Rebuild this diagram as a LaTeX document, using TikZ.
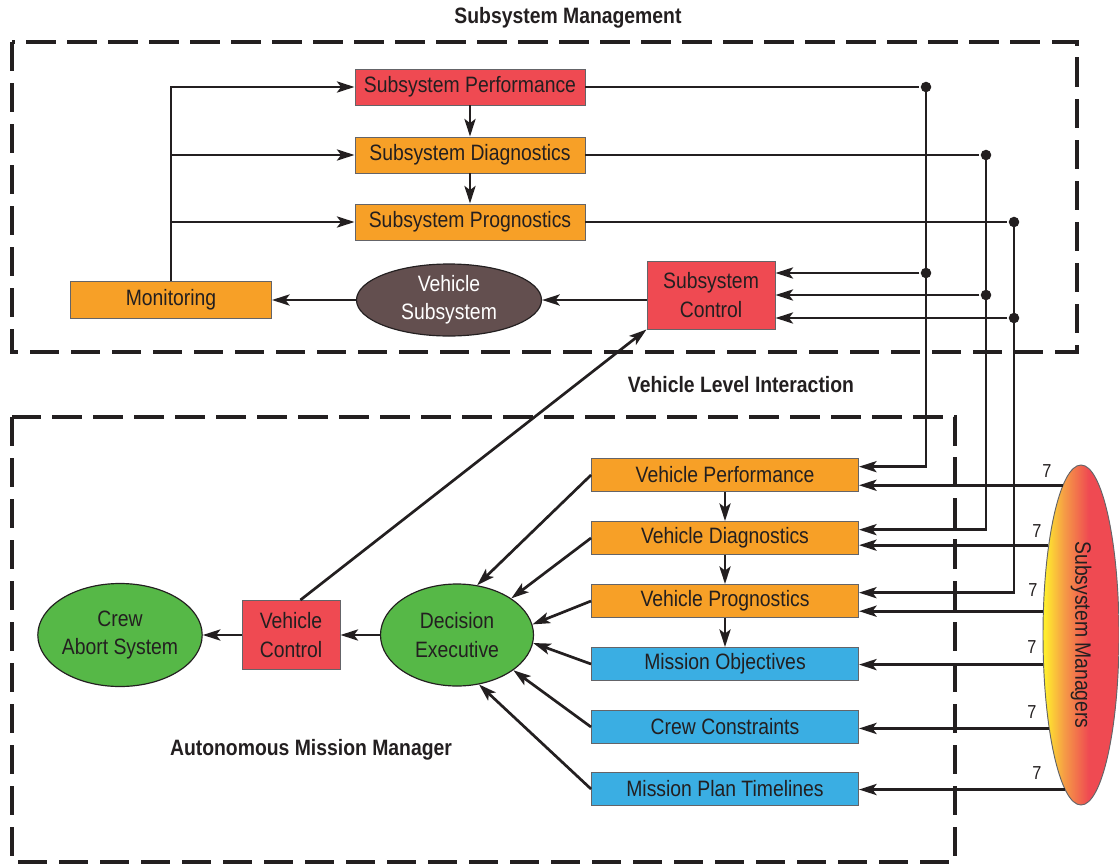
\documentclass[tikz,border=0pt]{standalone}
\usepackage{fontspec}
\setmainfont[FakeStretch=0.87]{Liberation Sans}
\usetikzlibrary{arrows.meta,shapes.geometric}
\definecolor{boxred}{RGB}{239,74,82}
\definecolor{boxorange}{RGB}{247,160,39}
\definecolor{boxblue}{RGB}{58,174,227}
\definecolor{boxgreen}{RGB}{86,184,71}
\definecolor{boxbrown}{RGB}{99,79,79}
\definecolor{smyellow}{RGB}{255,238,45}
\definecolor{smmid}{RGB}{245,155,70}
\definecolor{ink}{RGB}{35,31,32}
\definecolor{edge}{RGB}{100,100,104}
\pgfdeclarehorizontalshading{smshade}{100bp}{color(0bp)=(smyellow); color(26bp)=(smyellow);
  color(39bp)=(smmid); color(55bp)=(boxred); color(100bp)=(boxred)}

\begin{document}
\begin{tikzpicture}[x = 0.03cm, y = -0.03cm, line width = 2.3pt, color = ink,
                    font = \fontsize{19}{24}\selectfont,
                    arr/.style = {-{Stealth[length = 15pt, width = 9.5pt, inset = 3.5pt]}},
                    sbox/.style = {rectangle, draw = edge, line width = 0.8pt, inner sep = 0pt, minimum width = 6.9cm, minimum height = 1.08cm},
                    vbox/.style = {rectangle, draw = edge, line width = 0.8pt, inner sep = 0pt, minimum width = 8.01cm, minimum height = 0.99cm},
                    cbox/.style = {rectangle, draw = edge, line width = 0.8pt, inner sep = 0pt, align = center},
                    oval/.style = {ellipse, draw = ink, line width = 1pt, inner sep = 0pt, align = center},
                    dot/.style = {circle, fill = ink, inner sep = 0pt, minimum size = 9pt},
                    zone/.style = {line width = 4pt, dash pattern = on 25pt off 10pt},
                    title/.style = {font = \fontsize{19}{24}\selectfont\bfseries},
                    num/.style = {font = \fontsize{16}{19}\selectfont}]
  \useasboundingbox (0,0) rectangle (1119,865);

  \node [title] (tSM) at (568,18) {Subsystem Management};
  \node [title] (tVL) at (741,385) {Vehicle Level Interaction};
  \node [title] (tAM) at (311,750) {Autonomous Mission Manager};
  \draw [zone] (12,42) rectangle (1077,352);
  \draw [zone] (12,417) rectangle (955,862);

  \node [sbox, fill = boxred] (SP) at (470,87) {Subsystem Performance};
  \node [sbox, fill = boxorange] (SD) at (470,155) {Subsystem Diagnostics};
  \node [sbox, fill = boxorange] (SG) at (470,222) {Subsystem Prognostics};
  \node [cbox, fill = boxorange, minimum width = 6.03cm, minimum height = 1.11cm] (MON) at (171,300) {Monitoring};
  \node [oval, fill = boxbrown, text = white, minimum width = 5.55cm, minimum height = 2.16cm] (VS) at (449,300) {Vehicle\\Subsystem};
  \node [cbox, fill = boxred, minimum width = 3.84cm, minimum height = 2.04cm] (SC) at (711,295) {Subsystem\\Control};

  \node [vbox, fill = boxorange] (VP) at (725,475) {Vehicle Performance};
  \node [vbox, fill = boxorange] (VD) at (725,538) {Vehicle Diagnostics};
  \node [vbox, fill = boxorange] (VG) at (725,601) {Vehicle Prognostics};
  \node [vbox, fill = boxblue] (MO) at (725,664) {Mission Objectives};
  \node [vbox, fill = boxblue] (CC) at (725,727) {Crew Constraints};
  \node [vbox, fill = boxblue] (MT) at (725,789) {Mission Plan Timelines};
  \node [oval, fill = boxgreen, minimum width = 4.59cm, minimum height = 3.06cm] (DE) at (457,635) {Decision\\Executive};
  \node [cbox, fill = boxred, minimum width = 2.94cm, minimum height = 2.07cm] (VC) at (291,635) {Vehicle\\Control};
  \node [oval, fill = boxgreen, minimum width = 4.56cm, minimum height = 3.09cm] (CA) at (120,635) {Crew\\Abort System};
  \node [ellipse, draw = edge, line width = 0.8pt, shading = smshade, inner sep = 0pt,
         minimum width = 2.28cm, minimum height = 10.2cm] (SM) at (1081,635) {\rotatebox{-90}{Subsystem Managers}\hspace{-0.35cm}};

  \node [dot] (j1) at (926,87) {};
  \node [dot] (j2) at (986,155) {};
  \node [dot] (j3) at (1014,222) {};
  \node [dot] (k1) at (926,273) {};
  \node [dot] (k2) at (986,295) {};
  \node [dot] (k3) at (1014,318) {};

  \node [num] (n1) at (1047,471) {7};
  \node [num] (n2) at (1037,531) {7};
  \node [num] (n3) at (1033,590) {7};
  \node [num] (n4) at (1032,647) {7};
  \node [num] (n5) at (1032,712) {7};
  \node [num] (n6) at (1037,773) {7};

  \draw [arr] (MON.north) |- (SP.west);
  \draw [arr] (MON.north |- SD.west) -- (SD.west);
  \draw [arr] (MON.north |- SG.west) -- (SG.west);
  \draw [arr] (SP) -- (SD);
  \draw [arr] (SD) -- (SG);
  \draw [arr] (SC.west |- VS.east) -- (VS.east);
  \draw [arr] (VS.west) -- (MON.east);

  \draw (SP.east) -- (j1);
  \draw (SD.east) -- (j2);
  \draw (SG.east) -- (j3);
  \draw [arr] (j1.center) |- ([yshift = 0.25cm]VP.east);
  \draw [arr] (j2.center) |- ([yshift = 0.25cm]VD.east);
  \draw [arr] (j3.center) |- ([yshift = 0.25cm]VG.east);
  \draw [arr] (k1) -- (k1 -| SC.east);
  \draw [arr] (k2) -- (k2 -| SC.east);
  \draw [arr] (k3) -- (k3 -| SC.east);

  \draw [arr] (SM.97) -- (SM.97 -| VP.east);
  \draw [arr] (SM.110) -- (SM.110 -| VD.east);
  \draw [arr] (SM.148) -- (SM.148 -| VG.east);
  \draw [arr] (SM.218) -- (SM.218 -| MO.east);
  \draw [arr] (SM.251) -- (SM.251 -| CC.east);
  \draw [arr] (SM.264) -- (SM.264 -| MT.east);

  \draw [arr] (VP) -- (VD);
  \draw [arr] (VD) -- (VG);
  \draw [arr] (VG) -- (MO);
  \draw [arr] (VP.west) -- (DE.68);
  \draw [arr] (VD.west) -- (DE.34);
  \draw [arr] (VG.west) -- (DE.8);
  \draw [arr] (MO.west) -- (DE.354);
  \draw [arr] (CC.west) -- (DE.328);
  \draw [arr] (MT.west) -- (DE.294);
  \draw [arr] (DE.west) -- (VC.east);
  \draw [arr] (VC.west) -- (CA.east);
  \draw [arr] (VC.75) -- (SC.south west);
\end{tikzpicture}
\end{document}
